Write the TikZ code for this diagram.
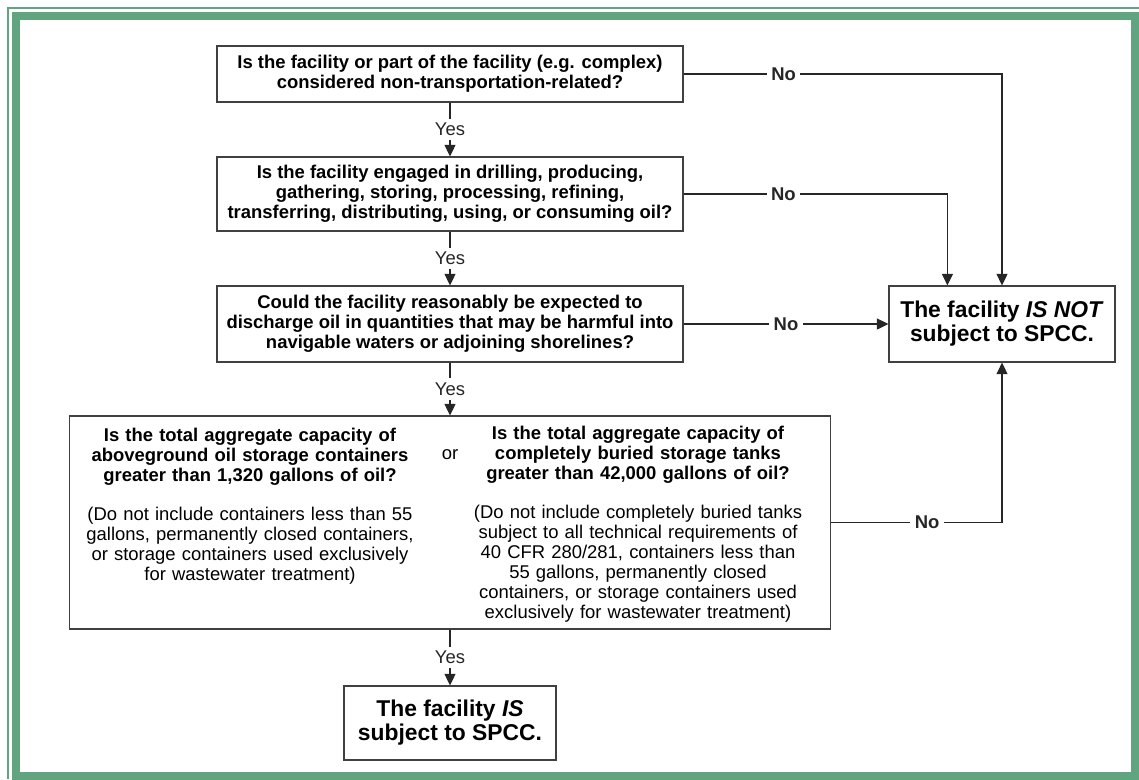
\documentclass[tikz,border=0pt]{standalone}
\usepackage{fontspec}
\setmainfont{Liberation Sans}
\usepackage{tikz}
\usetikzlibrary{arrows.meta,positioning}
\definecolor{framegreen}{RGB}{96,164,128}
\newcommand{\qfont}{\fontsize{10.5}{11.4}\selectfont}

\begin{document}
\begin{tikzpicture}[
    x=0.02cm, y=-0.02cm,
    qbox/.style={draw=black!75, line width=0.7pt, align=center, font=\qfont\bfseries, inner sep=0pt},
    endbox/.style={draw=black!75, line width=0.7pt, align=center, font=\fontsize{13}{13.6}\selectfont\bfseries, inner sep=0pt},
    coltext/.style={text width=7cm, align=center, font=\qfont, inner sep=0pt, anchor=north},
    yeslbl/.style={fill=white, inner sep=2.5pt, font=\qfont},
    nolbl/.style={fill=white, inner sep=2.5pt, font=\qfont\bfseries},
    arrow/.style={-{Triangle[length=0.23cm, width=0.22cm]}, line width=0.6pt, black!85}
]
    \useasboundingbox (0,0) rectangle (1139,779);

    % Frame
    \draw[framegreen, line width=0.16cm] (16,16) rectangle (1135,775.5);
    \draw[framegreen, line width=0.04cm] (8,779) |- (1139,8);

    % Questions
    \node[qbox, minimum width=9.32cm, minimum height=1.12cm] (q1) at (450,74)
        {Is the facility or part of the facility (e.g. complex)\\considered non-transportation-related?};
    \node[qbox, minimum width=9.32cm, minimum height=1.48cm] (q2) at (450,194)
        {Is the facility engaged in drilling, producing,\\gathering, storing, processing, refining,\\transferring, distributing, using, or consuming oil?};
    \node[qbox, minimum width=9.32cm, minimum height=1.52cm] (q3) at (450,324)
        {Could the facility reasonably be expected to\\discharge oil in quantities that may be harmful into\\navigable waters or adjoining shorelines?};

    % Capacity question
    \node[qbox, minimum width=15.22cm, minimum height=4.26cm] (q4) at (450,522.5) {};
    \node[coltext] (agcol) at (250,428)
        {\bfseries Is the total aggregate capacity of\\aboveground oil storage containers\\greater than 1,320 gallons of oil?\\[10.7pt]
         \mdseries (Do not include containers less than 55\\gallons, permanently closed containers,\\or storage containers used exclusively\\for wastewater treatment)};
    \node[font=\qfont, inner sep=0pt] (ornode) at (450,455) {or};
    \node[coltext] (bgcol) at (638,426)
        {\bfseries Is the total aggregate capacity of\\completely buried storage tanks\\greater than 42,000 gallons of oil?\\[10.7pt]
         \mdseries (Do not include completely buried tanks\\subject to all technical requirements of\\40 CFR 280/281, containers less than\\55 gallons, permanently closed\\containers, or storage containers used\\exclusively for wastewater treatment)};

    % Outcomes
    \node[endbox, minimum width=4.52cm, minimum height=1.52cm] (notbox) at (1002,324)
        {The facility \textit{IS NOT}\\subject to SPCC.};
    \node[endbox, minimum width=4.24cm, minimum height=1.48cm] (isbox) at (450,723)
        {The facility \textit{IS}\\subject to SPCC.};

    % Yes connectors
    \foreach \a/\b in {q1/q2, q2/q3, q3/q4, q4/isbox} {
        \draw[arrow] (\a) -- node[yeslbl] {Yes} (\b);
    }

    % No connectors
    \draw[arrow] (q1.east) -| node[nolbl, pos=0.157] {No} (notbox.north);
    \draw[arrow] (q2.east) -| node[nolbl, pos=0.189] {No} ([xshift=1.18cm]notbox.north west);
    \draw[arrow] (q3) -- node[nolbl] {No} (notbox);
    \draw[arrow] (q4.east) -| node[nolbl, pos=0.281] {No} (notbox.south);
\end{tikzpicture}
\end{document}
